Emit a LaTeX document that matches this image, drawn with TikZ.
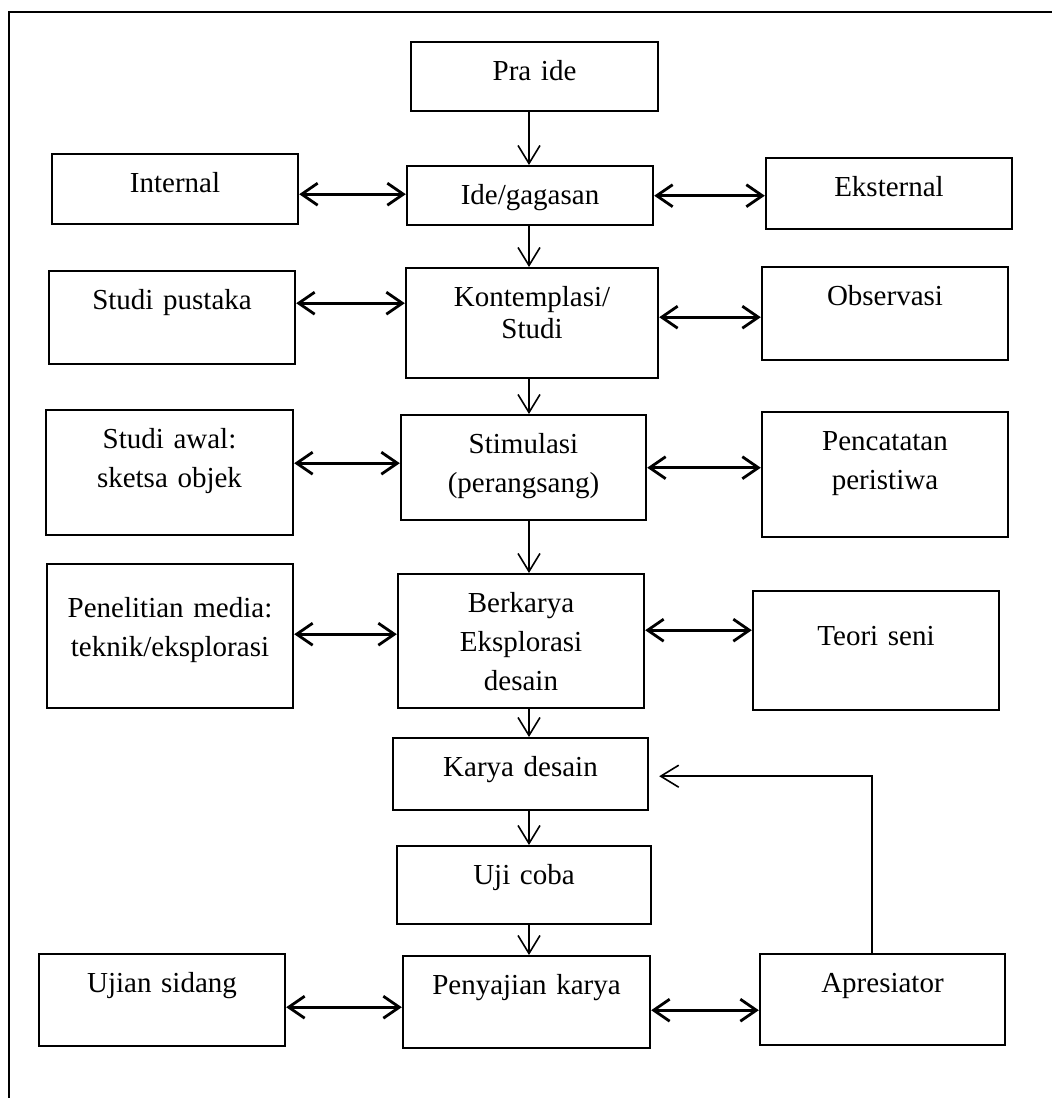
\documentclass[tikz,border=0pt]{standalone}
\usepackage{fontspec}
\setmainfont{Liberation Serif}
\usepackage{tikz}
\usetikzlibrary{positioning, arrows.meta}
\tikzstyle{blockNode}=[draw, line width=1.2pt, inner sep=0pt, align=center, anchor=north, text height=19pt, font=\fontsize{14.5}{19.5}\selectfont]
\tikzstyle{flowArrow}=[-{Straight Barb[length=9pt,width=11pt]}, line width=0.8pt]
\tikzstyle{bothArrow}=[{Straight Barb[length=8pt,width=11pt]}-{Straight Barb[length=8pt,width=11pt]}, line width=1.4pt]

\begin{document}
\begin{tikzpicture}[x=0.5pt, y=-0.5pt]

    \useasboundingbox (0,0) rectangle (1052,1098);
    \draw[line width=1.3pt] (1060,12) -- (9,12) -- (9,1110);

    % nodes

    \node[blockNode, text width=123.5pt, text depth=15.5pt] (praIde) at (534.5,41) {Pra ide};

    \node[blockNode, text width=123pt, text depth=16pt] (internal) at (175,153) {Internal};
    \node[blockNode, text width=123pt, text depth=10.5pt] (ideGagasan) at (530,165) {Ide/gagasan};
    \node[blockNode, text width=123pt, text depth=16.5pt] (eksternal) at (889,157) {Eksternal};

    \node[blockNode, text width=123pt, text depth=27.5pt] (studiPustaka) at (172,270) {Studi pustaka};
    \node[blockNode, text width=126pt, text depth=36pt] (kontemplasi) at (532,267) {Kontemplasi/\\[-3.5pt]Studi};
    \node[blockNode, text width=123pt, text depth=27.5pt] (observasi) at (885,266) {Observasi};

    \node[blockNode, text width=123.5pt, text depth=43.5pt] (studiAwal) at (169.5,409) {Studi awal:\\sketsa objek};
    \node[blockNode, text width=122.5pt, text depth=33.5pt] (stimulasi) at (523.5,414) {Stimulasi\\(perangsang)};
    \node[blockNode, text width=123pt, text depth=43.5pt] (pencatatan) at (885,411) {Pencatatan\\peristiwa};

    \node[blockNode, text width=123pt, text height=26.5pt, text depth=45.5pt] (penelitian) at (170,563) {Penelitian media:\\teknik/eksplorasi};
    \node[blockNode, text width=123pt, text depth=48pt] (berkarya) at (521,573) {Berkarya\\Eksplorasi\\desain};
    \node[blockNode, text width=123pt, text height=27pt, text depth=32.5pt] (teoriSeni) at (876,590) {Teori seni};

    \node[blockNode, text width=127.5pt, text depth=17pt] (karyaDesain) at (520.5,737) {Karya desain};
    \node[blockNode, text width=127pt, text depth=20pt] (ujiCoba) at (524,845) {Uji coba};

    \node[blockNode, text width=123pt, text depth=27pt] (ujianSidang) at (162,953) {Ujian sidang};
    \node[blockNode, text width=123.5pt, text depth=27pt] (penyajian) at (526.5,955) {Penyajian karya};
    \node[blockNode, text width=122.5pt, text depth=26.5pt] (apresiator) at (882.5,953) {Apresiator};

    \coordinate (trunk) at (529,0);

    % transition

    \draw[flowArrow] (praIde.south -| trunk) -- (ideGagasan.north -| trunk);
    \draw[flowArrow] (ideGagasan.south -| trunk) -- (kontemplasi.north -| trunk);
    \draw[flowArrow] (kontemplasi.south -| trunk) -- (stimulasi.north -| trunk);
    \draw[flowArrow] (stimulasi.south -| trunk) -- (berkarya.north -| trunk);
    \draw[flowArrow] (berkarya.south -| trunk) -- (karyaDesain.north -| trunk);
    \draw[flowArrow] (karyaDesain.south -| trunk) -- (ujiCoba.north -| trunk);
    \draw[flowArrow] (ujiCoba.south -| trunk) -- (penyajian.north -| trunk);

    \draw[bothArrow] ([yshift=-2.5pt]internal.east) -- ([yshift=-2.5pt]internal.east -| ideGagasan.west);
    \draw[bothArrow] (ideGagasan.east) -- (ideGagasan.east -| eksternal.west);
    \draw[bothArrow] ([yshift=7.25pt]studiPustaka.east) -- ([yshift=7.25pt]studiPustaka.east -| kontemplasi.west);
    \draw[bothArrow] ([yshift=3pt]kontemplasi.east) -- ([yshift=3pt]kontemplasi.east -| observasi.west);
    \draw[bothArrow] ([yshift=4.75pt]studiAwal.east) -- ([yshift=4.75pt]studiAwal.east -| stimulasi.west);
    \draw[bothArrow] (stimulasi.east) -- (stimulasi.east -| pencatatan.west);
    \draw[bothArrow] ([yshift=1pt]penelitian.east) -- ([yshift=1pt]penelitian.east -| berkarya.west);
    \draw[bothArrow] ([yshift=5.5pt]berkarya.east) -- ([yshift=5.5pt]berkarya.east -| teoriSeni.west);
    \draw[bothArrow] ([yshift=-3.5pt]ujianSidang.east) -- ([yshift=-3.5pt]ujianSidang.east -| penyajian.west);
    \draw[bothArrow] ([yshift=-4pt]penyajian.east) -- ([yshift=-4pt]penyajian.east -| apresiator.west);

    \draw[flowArrow, shorten >=5pt] ([xshift=-5.25pt]apresiator.north) |- ([yshift=-1pt]karyaDesain.east);

\end{tikzpicture}
\end{document}
